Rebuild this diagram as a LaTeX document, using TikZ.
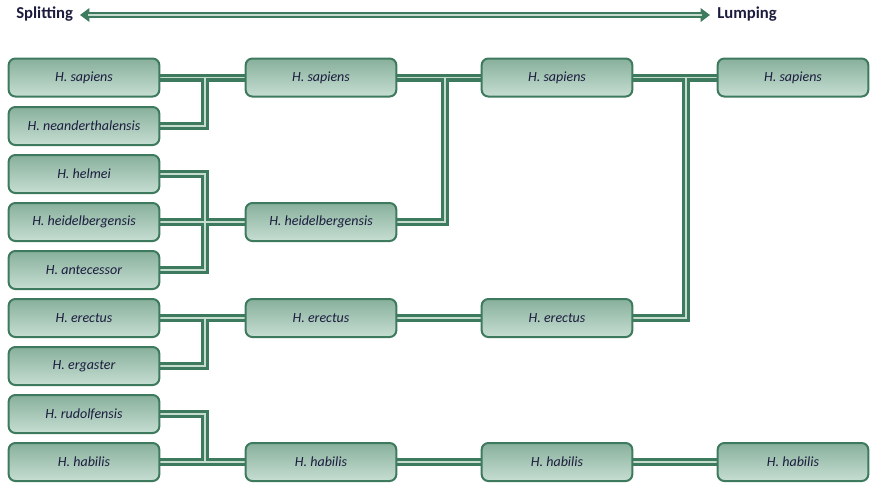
\documentclass[tikz,border=0pt]{standalone}
\usepackage{fontspec}
\setmainfont{Carlito}
\usetikzlibrary{arrows.meta}
\pgfdeclarelayer{background}
\pgfsetlayers{background,main}

\definecolor{linedark}{RGB}{62,122,94}
\definecolor{linelight}{RGB}{198,220,206}
\definecolor{boxtop}{RGB}{136,176,156}
\definecolor{boxbot}{RGB}{198,222,210}
\definecolor{labeltext}{RGB}{28,28,62}

\tikzset{
  taxon/.style={draw=linedark, line width=1.5pt, rounded corners=5pt,
    top color=boxtop, bottom color=boxbot,
    minimum width=113pt, minimum height=28.5pt, inner sep=0pt,
    font=\itshape\fontsize{10.5}{12}\selectfont, text=labeltext},
  linkouter/.style={draw=linedark, line width=6pt},
  linkinner/.style={draw=linelight, line width=1.4pt},
  heading/.style={font=\bfseries\fontsize{12.5}{14}\selectfont, text=labeltext, inner sep=0pt}
}

% all connector paths, drawn once dark and wide, once light and narrow
\newcommand\linkpaths[1]{
  \draw[#1] (a1.east) -- (b1.west);
  \draw[#1] (a2.east) -| (ja |- a1.east);
  \draw[#1] (a3.east) -| (ja |- a5.east) -- (a5.east);
  \draw[#1] (a4.east) -- (b2.west);
  \draw[#1] (a6.east) -- (b3.west);
  \draw[#1] (a7.east) -| (ja |- a6.east);
  \draw[#1] (a8.east) -| (ja |- a9.east);
  \draw[#1] (a9.east) -- (b4.west);
  \draw[#1] (b1.east) -- (c1.west);
  \draw[#1] (b2.east) -| (jb |- b1.east);
  \draw[#1] (b3.east) -- (c2.west);
  \draw[#1] (b4.east) -- (c3.west);
  \draw[#1] (c1.east) -- (d1.west);
  \draw[#1] (c2.east) -| (jc |- c1.east);
  \draw[#1] (c3.east) -- (d2.west);
}

\begin{document}
\begin{tikzpicture}[x=0.75pt, y=-0.75pt]
  \useasboundingbox (0,0) rectangle (870,487);

  % scale heading
  \node[heading, anchor=west] (split) at (16,14) {Splitting};
  \node[heading, anchor=west] (lump) at (717,14) {Lumping};
  \coordinate (arL) at (80,15);
  \coordinate (arR) at (710,15);
  \draw[draw=linedark, line width=3.8pt, {Triangle[length=7pt,width=10pt]}-{Triangle[length=7pt,width=10pt]}] (arL) -- (arR);
  \draw[draw=linelight, line width=1pt, shorten <=6pt, shorten >=6pt] (arL) -- (arR);

  % column 1
  \node[taxon] (a1) at (84,77.5) {H. sapiens};
  \node[taxon] (a2) at (84,126) {H. neanderthalensis};
  \node[taxon] (a3) at (84,174) {H. helmei};
  \node[taxon] (a4) at (84,222) {H. heidelbergensis};
  \node[taxon] (a5) at (84,270) {H. antecessor};
  \node[taxon] (a6) at (84,318) {H. erectus};
  \node[taxon] (a7) at (84,366) {H. ergaster};
  \node[taxon] (a8) at (84,414) {H. rudolfensis};
  \node[taxon] (a9) at (84,462) {H. habilis};

  % column 2
  \node[taxon] (b1) at (321,77.5) {H. sapiens};
  \node[taxon] (b2) at (321,222) {H. heidelbergensis};
  \node[taxon] (b3) at (321,318) {H. erectus};
  \node[taxon] (b4) at (321,462) {H. habilis};

  % column 3
  \node[taxon] (c1) at (557,77.5) {H. sapiens};
  \node[taxon] (c2) at (557,318) {H. erectus};
  \node[taxon] (c3) at (557,462) {H. habilis};

  % column 4
  \node[taxon] (d1) at (793,77.5) {H. sapiens};
  \node[taxon] (d2) at (793,462) {H. habilis};

  % junction columns
  \coordinate (ja) at (205,0);
  \coordinate (jb) at (445,0);
  \coordinate (jc) at (686,0);

  \begin{pgfonlayer}{background}
    \linkpaths{linkouter}
    \linkpaths{linkinner}
  \end{pgfonlayer}
\end{tikzpicture}
\end{document}
